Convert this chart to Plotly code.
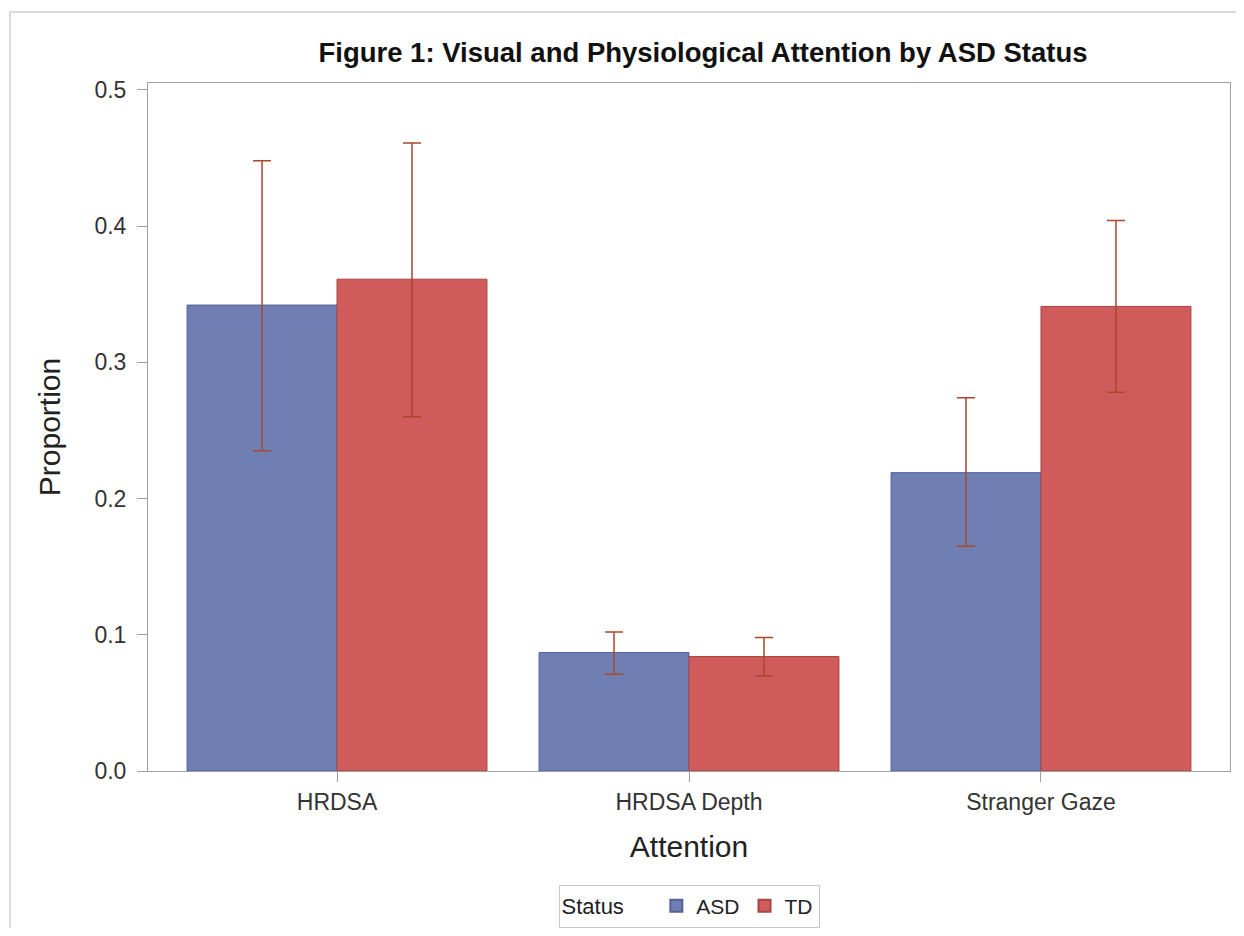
import plotly.graph_objects as go

categories = ["HRDSA", "HRDSA Depth", "Stranger Gaze"]
asd_values = [0.342, 0.087, 0.219]
asd_upper = [0.448, 0.102, 0.274]
asd_lower = [0.235, 0.071, 0.165]
td_values = [0.361, 0.084, 0.341]
td_upper = [0.461, 0.098, 0.404]
td_lower = [0.260, 0.070, 0.278]
y_ticks = [0.0, 0.1, 0.2, 0.3, 0.4, 0.5]
y_ticklabels = ["0.0", "0.1", "0.2", "0.3", "0.4", "0.5"]

FONT = "Liberation Sans, Arial, sans-serif"
ERR_COLOR = "#A8482C"

def err(vals, up, lo):
    return dict(type="data", symmetric=False,
                array=[u - v for u, v in zip(up, vals)],
                arrayminus=[v - l for v, l in zip(vals, lo)],
                color=ERR_COLOR, thickness=1.5, width=9)

fig = go.Figure()
fig.add_trace(go.Bar(name="ASD", x=categories, y=asd_values,
                     marker=dict(color="#6F7EB3", line=dict(color="#56619A", width=1)),
                     error_y=err(asd_values, asd_upper, asd_lower)))
fig.add_trace(go.Bar(name="TD", x=categories, y=td_values,
                     marker=dict(color="#D05B5B", line=dict(color="#A84444", width=1)),
                     error_y=err(td_values, td_upper, td_lower)))

OFF = 8  # page body margin
W, H = 1244 - 2 * OFF, 936 - 2 * OFF
L = 148 - OFF
T = 83 - OFF
R = W - (1230 - OFF)
B = H - (771 - OFF)
pw = W - L - R
ph = H - T - B

fig.update_layout(
    width=W, height=H,
    margin=dict(l=L, r=R, t=T, b=B, autoexpand=False),
    paper_bgcolor="white", plot_bgcolor="white",
    barmode="group", bargap=0.148, bargroupgap=0,
    font=dict(family=FONT, color="#333333"),
    title=dict(text="<b>Figure 1: Visual and Physiological Attention by ASD Status</b>",
               x=(703 - OFF) / W, xanchor="center", y=1 - (52 - OFF) / H, yanchor="middle",
               font=dict(size=27.5, color="#111111", family=FONT)),
    xaxis=dict(range=[-0.537, 2.537], showline=True, linecolor="#A0A0A0", linewidth=1,
               mirror=True, ticks="outside", ticklen=10, tickcolor="#A0A0A0",
               tickfont=dict(size=23, color="#333333"), automargin=False,
               title=dict(text="Attention", font=dict(size=30, color="#222222"), standoff=22),
               showgrid=False, zeroline=False),
    yaxis=dict(range=[0, 0.505], tickvals=y_ticks, ticktext=y_ticklabels,
               showline=True, linecolor="#A0A0A0", linewidth=1, mirror=True,
               ticks="outside", ticklen=10, tickcolor="#A0A0A0", ticklabelstandoff=6,
               tickfont=dict(size=23, color="#333333"), automargin=False,
               title=dict(text="Proportion", font=dict(size=30, color="#222222"), standoff=24),
               showgrid=False, zeroline=False),
    legend=dict(orientation="h", x=0.5, xanchor="center",
                y=-(906 - 771) / ph, yanchor="middle",
                title=dict(text="Status    ", font=dict(size=22, color="#222222")),
                font=dict(size=21, color="#222222"),
                bordercolor="#C8C8C8", borderwidth=1, bgcolor="white",
                itemsizing="constant", traceorder="normal", valign="middle"),
)

# outer border of the graph area
fig.add_shape(type="rect", xref="paper", yref="paper",
              x0=(10 - 148) / pw, x1=(1244 + 20 - 148) / pw,
              y0=-(936 + 20 - 771) / ph, y1=1 + (83 - 12) / ph,
              line=dict(color="#D0D0D0", width=1.5), fillcolor="rgba(0,0,0,0)",
              layer="below")

fig.write_html("out.html")
